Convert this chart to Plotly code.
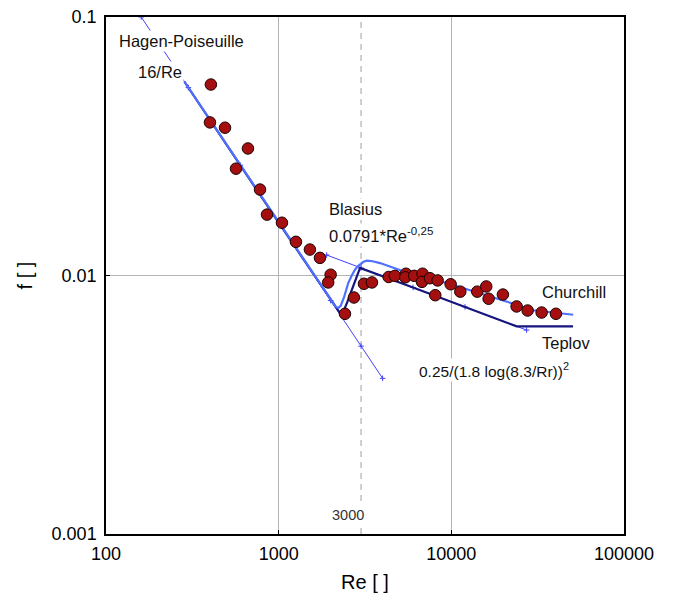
import plotly.graph_objects as go

# Measured data points (Re, f)
re_data = [405, 400, 489, 566, 664, 780, 856, 1045, 1259, 1517, 1734, 2000, 1936,
           2421, 2729, 3119, 3470, 4335, 4710, 5458, 5410, 6096, 6810, 6760, 7520,
           8330, 8070, 9910, 11270, 14130, 15930, 16440, 19890, 23880, 27660, 33340, 40350]
f_data = [0.0548, 0.0391, 0.0373, 0.0259, 0.031, 0.0215, 0.0172, 0.016, 0.0135, 0.0126,
          0.0117, 0.01007, 0.0094, 0.00711, 0.00822, 0.00929, 0.0094, 0.00987, 0.00997,
          0.01016, 0.00984, 0.00997, 0.01016, 0.00945, 0.00976, 0.00957, 0.00839, 0.00925,
          0.00866, 0.00866, 0.00907, 0.00813, 0.00844, 0.00759, 0.00732, 0.00719, 0.00711]

# Hagen-Poiseuille 16/Re (thin line)
re_hp = [160, 300, 600, 1000, 2000, 3000, 4000]
f_hp = [0.1, 0.0533, 0.0267, 0.016, 0.008, 0.00533, 0.004]

# Blasius (thin line)
re_bl = [1897, 3000, 6000, 12000, 27290]
f_bl = [0.0120, 0.01069, 0.00899, 0.00756, 0.00615]

# Teplov / laminar-transition-Blasius (dark line)
re_tp = [284, 1000, 2318, 2400, 2500, 2620, 2750, 2870, 2960, 6000, 12000, 23900, 50700]
f_tp = [0.0563, 0.016, 0.00700, 0.00735, 0.0079, 0.0086, 0.0094, 0.0101, 0.0107,
        0.00899, 0.00756, 0.00636, 0.00636]

# Churchill (light blue)
re_ch = [284, 1000, 1800, 2000, 2130, 2213, 2290, 2400, 2529, 2650, 2767, 2870, 2958,
         3100, 3245, 3500, 3862, 6010, 9390, 14670, 22830, 29770, 50800]
f_ch = [0.0563, 0.016, 0.00889, 0.0080, 0.00760, 0.00748, 0.00765, 0.0083, 0.00935,
        0.01000, 0.01053, 0.01085, 0.01106, 0.01130, 0.01141, 0.01135, 0.01117, 0.01007,
        0.00935, 0.00855, 0.00778, 0.00734, 0.00705]

# Vertical marker at Re = 3000
re_v = [3000, 3000]
f_v = [0.001, 0.1]

x_ticks = [100, 1000, 10000, 100000]
x_ticktext = ["100", "1000", "10000", "100000"]
y_ticks = [0.001, 0.01, 0.1]
y_ticktext = ["0.001", "0.01", "0.1"]

FONT = "Liberation Sans, Arial, sans-serif"

fig = go.Figure()

fig.add_trace(go.Scatter(x=re_v, y=f_v, mode="lines",
                         line=dict(color="#b0b0b0", width=1.2, dash="6px,5px"),
                         hoverinfo="skip"))
fig.add_trace(go.Scatter(x=re_hp, y=f_hp, mode="lines+markers",
                         line=dict(color="#4040ff", width=1),
                         marker=dict(symbol="cross-thin", size=4, line=dict(color="#4040ff", width=1))))
fig.add_trace(go.Scatter(x=re_bl, y=f_bl, mode="lines+markers",
                         line=dict(color="#4040ff", width=1),
                         marker=dict(symbol="cross-thin", size=4, line=dict(color="#4040ff", width=1))))
fig.add_trace(go.Scatter(x=re_tp, y=f_tp, mode="lines",
                         line=dict(color="#16167e", width=2.2)))
fig.add_trace(go.Scatter(x=re_ch, y=f_ch, mode="lines",
                         line=dict(color="#5070ff", width=2.2)))
fig.add_trace(go.Scatter(x=re_data, y=f_data, mode="markers",
                         marker=dict(color="#a50f0f", size=11.5, line=dict(color="#1a0000", width=1))))

def ann(text, x, y, xanchor="left", size=16.5, color="#111111"):
    fig.add_annotation(text=text, x=x, y=y, xref="paper", yref="paper",
                       xanchor=xanchor, yanchor="middle", showarrow=False,
                       bgcolor="white", borderpad=1,
                       font=dict(family=FONT, size=size, color=color))

ann("Hagen-Poiseuille", 0.021, 0.953)
ann("16/Re", 0.058, 0.894)
ann("Blasius", 0.426, 0.629)
ann("0.0791*Re<sup>-0,25</sup>", 0.426, 0.579)
ann("Churchill", 0.838, 0.4685)
ann("Teplov", 0.838, 0.37)
ann("0.25/(1.8 log(8.3/Rr))<sup>2</sup>", 0.600, 0.3175, size=15.5)
ann("3000", 0.467, 0.037, xanchor="center", size=14.5, color="#333333")

fig.update_layout(
    width=678, height=599,
    margin=dict(l=106, r=54, t=17, b=65),
    paper_bgcolor="white", plot_bgcolor="white",
    showlegend=False,
    font=dict(family=FONT, size=18, color="black"),
)
fig.update_xaxes(type="log", range=[2, 5], tickvals=x_ticks, ticktext=x_ticktext,
                 showgrid=True, gridcolor="#b4b4b4", gridwidth=1,
                 showline=True, linecolor="black", linewidth=1.5, mirror=True,
                 ticks="inside", ticklen=4, tickcolor="black", automargin=False,
                 zeroline=False, tickfont=dict(size=18), ticklabelstandoff=3,
                 title=dict(text="Re [ ]", font=dict(size=20), standoff=12))
fig.update_yaxes(type="log", range=[-3, -1], tickvals=y_ticks, ticktext=y_ticktext,
                 showgrid=True, gridcolor="#b4b4b4", gridwidth=1,
                 showline=True, linecolor="black", linewidth=1.5, mirror=True,
                 ticks="inside", ticklen=4, tickcolor="black", automargin=False,
                 zeroline=False, tickfont=dict(size=18), ticklabelstandoff=4,
                 title=dict(text="f [ ]", font=dict(size=20), standoff=14))

fig.write_html("out.html")
